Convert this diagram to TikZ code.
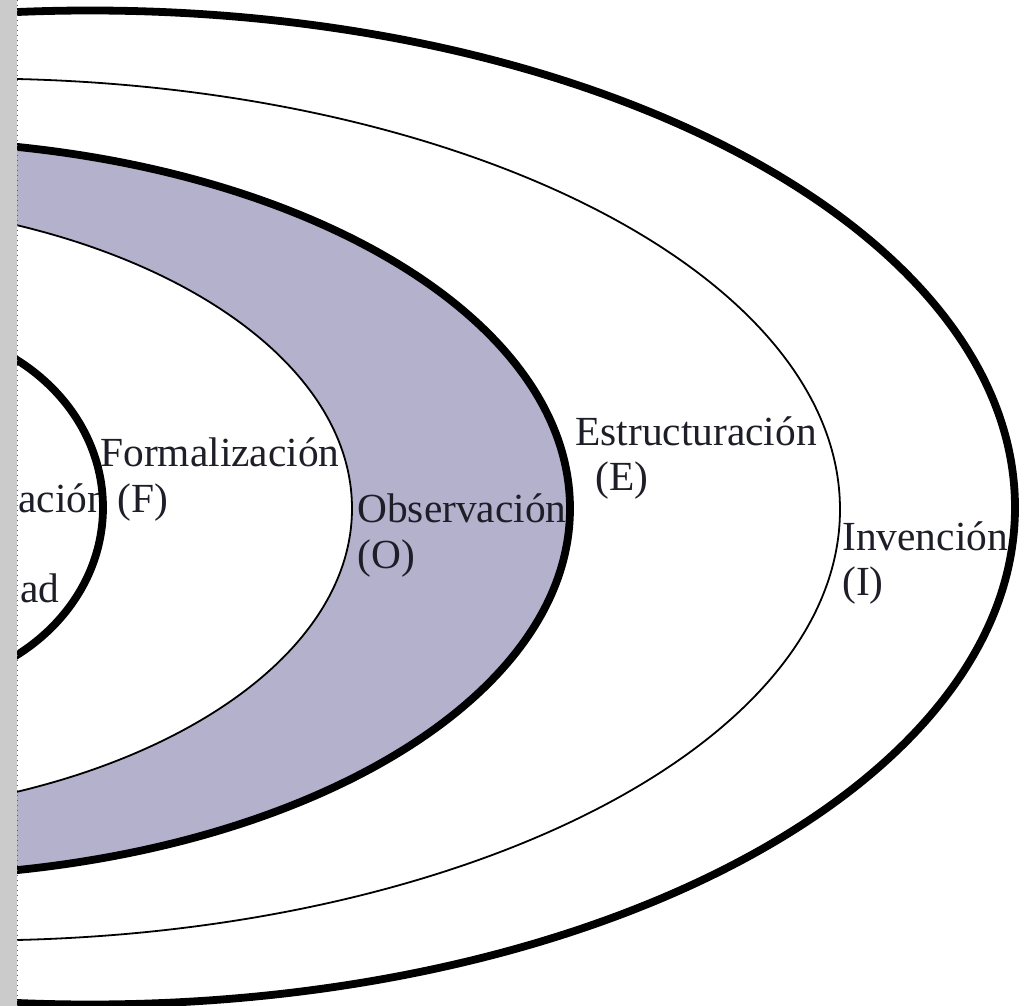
\documentclass[tikz,border=0pt]{standalone}
\usepackage{fontspec}
\setmainfont{Liberation Serif}
\definecolor{band}{HTML}{B4B1CD}
\definecolor{strip}{HTML}{CBCBCB}
\definecolor{ink}{HTML}{1E1E28}
\begin{document}
\begin{tikzpicture}[x=0.5pt,y=-0.5pt,
  thickring/.style={line width=3.9pt},
  thinring/.style={line width=0.9pt},
  lbl/.style={anchor=base west,inner sep=0pt,text=ink,font=\fontsize{20.7}{23}\selectfont}]
\useasboundingbox (0,0) rectangle (1024,1006);
\fill[white] (0,0) rectangle (1024,1006);
\begin{scope}
\clip (17,0) rectangle (1024,1006);
% fills
\fill[white] (90,507.5) ellipse [x radius=462.5pt, y radius=248.5pt];
\fill[band] (-110,508.5) ellipse [x radius=340pt, y radius=184pt];
\fill[white] (-200,508.5) ellipse [x radius=276pt, y radius=154pt];
% labels
\node[lbl] (form) at (100,466) {Formalización};
\node[lbl] (formF) at (117,512) {(F)};
\node[lbl] (acion) at (18,512) {ación};
\node[lbl] (ad) at (20,602) {ad};
\node[lbl] (obs) at (357,522) {Observación};
\node[lbl] (obsO) at (357,568) {(O)};
\node[lbl] (est) at (575,445) {Estructuración};
\node[lbl] (estE) at (595,490) {(E)};
\node[lbl] (inv) at (842,550) {Invención};
\node[lbl] (invI) at (842,595) {(I)};
% rings
\draw[thickring] (90,507.5) ellipse [x radius=462.5pt, y radius=248.5pt];
\draw[thinring] (-25,509.5) ellipse [x radius=432.5pt, y radius=215.5pt];
\draw[thickring] (-110,508.5) ellipse [x radius=340pt, y radius=184pt];
\draw[thinring] (-200,508.5) ellipse [x radius=276pt, y radius=154pt];
\draw[thickring] (-100,507.5) ellipse [x radius=101.5pt, y radius=90.25pt];
\end{scope}
\fill[strip] (0,0) rectangle (17,1006);
\draw[gray!70!black,dotted,line width=0.5pt] (17,0) -- (17,1006);
\end{tikzpicture}
\end{document}
